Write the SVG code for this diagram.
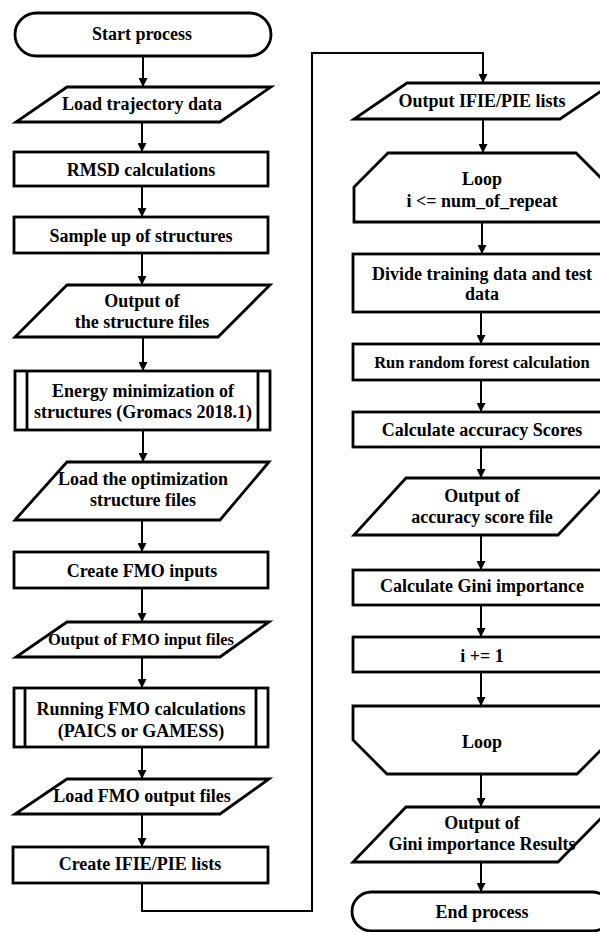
<svg xmlns="http://www.w3.org/2000/svg" width="600" height="932" viewBox="0 0 600 932">
  <style>
    .shape { fill: #ffffff; stroke: #000000; stroke-width: 2.8; stroke-linejoin: miter; }
    .bar { fill: none; stroke: #000000; stroke-width: 2.8; }
    .label { font-family: "Liberation Serif", "Times New Roman", serif; font-weight: bold; font-size: 18px; fill: #000000; text-anchor: middle; }
    .small { font-size: 16.5px; }
    .link { fill: none; stroke: #000000; stroke-width: 2; }
  </style>
  <defs>
    <marker id="arrow" viewBox="0 0 10 10" refX="10" refY="5" markerWidth="9" markerHeight="9" markerUnits="userSpaceOnUse" orient="auto">
      <path d="M0,0 L10,5 L0,10 Z" fill="#000000"/>
    </marker>
  </defs>
  <rect width="600" height="932" fill="#ffffff"/>

  <!-- connectors -->
  <g id="connectors">
    <line class="link" x1="143" y1="56" x2="143" y2="87" marker-end="url(#arrow)"/>
    <line class="link" x1="142" y1="122" x2="142" y2="152" marker-end="url(#arrow)"/>
    <line class="link" x1="142" y1="186" x2="142" y2="217" marker-end="url(#arrow)"/>
    <line class="link" x1="142" y1="253" x2="142" y2="285" marker-end="url(#arrow)"/>
    <line class="link" x1="143" y1="337" x2="143" y2="371" marker-end="url(#arrow)"/>
    <line class="link" x1="143" y1="430" x2="143" y2="462" marker-end="url(#arrow)"/>
    <line class="link" x1="142" y1="520" x2="142" y2="552" marker-end="url(#arrow)"/>
    <line class="link" x1="142" y1="588" x2="142" y2="622" marker-end="url(#arrow)"/>
    <line class="link" x1="142" y1="657" x2="142" y2="688" marker-end="url(#arrow)"/>
    <line class="link" x1="142" y1="747" x2="142" y2="779" marker-end="url(#arrow)"/>
    <line class="link" x1="142" y1="814" x2="142" y2="847" marker-end="url(#arrow)"/>
    <polyline class="link" points="142,883 142,911 312,911 312,53 483,53 483,83" marker-end="url(#arrow)"/>
    <line class="link" x1="483" y1="119" x2="483" y2="153" marker-end="url(#arrow)"/>
    <line class="link" x1="482" y1="222" x2="482" y2="254" marker-end="url(#arrow)"/>
    <line class="link" x1="481" y1="312" x2="481" y2="344" marker-end="url(#arrow)"/>
    <line class="link" x1="481" y1="380" x2="481" y2="412" marker-end="url(#arrow)"/>
    <line class="link" x1="481" y1="447" x2="481" y2="478" marker-end="url(#arrow)"/>
    <line class="link" x1="481" y1="535" x2="481" y2="570" marker-end="url(#arrow)"/>
    <line class="link" x1="481" y1="605" x2="481" y2="637" marker-end="url(#arrow)"/>
    <line class="link" x1="481" y1="672" x2="481" y2="706" marker-end="url(#arrow)"/>
    <line class="link" x1="481" y1="774" x2="481" y2="807" marker-end="url(#arrow)"/>
    <line class="link" x1="481" y1="862" x2="481" y2="892" marker-end="url(#arrow)"/>
  </g>

  <!-- left column -->
  <g id="start">
    <rect class="shape" x="15" y="13" width="256" height="43" rx="21.5" ry="21.5"/>
    <text class="label" x="142" y="40">Start process</text>
  </g>
  <g id="load-trajectory">
    <polygon class="shape" points="67,87 271,87 220,122 16,122"/>
    <text class="label" x="142" y="110">Load trajectory  data</text>
  </g>
  <g id="rmsd">
    <rect class="shape" x="14" y="152" width="254" height="34"/>
    <text class="label" x="141" y="176">RMSD calculations</text>
  </g>
  <g id="sample">
    <rect class="shape" x="14" y="217" width="254" height="36"/>
    <text class="label" x="141" y="242">Sample up of structures</text>
  </g>
  <g id="output-structures">
    <polygon class="shape" points="67,285 270,285 218,337 15,337"/>
    <text class="label" x="142" y="307">Output of</text>
    <text class="label" x="142" y="328">the structure files</text>
  </g>
  <g id="energy-min">
    <rect class="shape" x="15" y="371" width="255" height="59"/>
    <line class="bar" x1="27" y1="371" x2="27" y2="430"/>
    <line class="bar" x1="258" y1="371" x2="258" y2="430"/>
    <text class="label" x="143" y="397">Energy minimization of</text>
    <text class="label" x="143" y="418">structures (Gromacs 2018.1)</text>
  </g>
  <g id="load-optimized">
    <polygon class="shape" points="67,462 269,462 220,520 15,520"/>
    <text class="label" x="143" y="485">Load the optimization</text>
    <text class="label" x="143" y="506">structure files</text>
  </g>
  <g id="create-fmo">
    <rect class="shape" x="14" y="552" width="254" height="36"/>
    <text class="label" x="142" y="577">Create FMO inputs</text>
  </g>
  <g id="output-fmo-inputs">
    <polygon class="shape" points="67,622 269,622 220,657 16,657"/>
    <text class="label small" x="141" y="645">Output of FMO input files</text>
  </g>
  <g id="run-fmo">
    <rect class="shape" x="14" y="688" width="254" height="59"/>
    <line class="bar" x1="25" y1="688" x2="25" y2="747"/>
    <line class="bar" x1="256" y1="688" x2="256" y2="747"/>
    <text class="label" x="141" y="715">Running FMO calculations</text>
    <text class="label" x="141" y="737">(PAICS or GAMESS)</text>
  </g>
  <g id="load-fmo-output">
    <polygon class="shape" points="67,779 269,779 220,814 15,814"/>
    <text class="label" x="142" y="802">Load FMO output files</text>
  </g>
  <g id="create-ifie">
    <rect class="shape" x="13" y="847" width="255" height="36"/>
    <text class="label" x="140" y="870">Create IFIE/PIE lists</text>
  </g>

  <!-- right column -->
  <g id="output-ifie">
    <polygon class="shape" points="407,83 613,83 560,119 354,119"/>
    <text class="label" x="482" y="107">Output IFIE/PIE lists</text>
  </g>
  <g id="loop-start">
    <polygon class="shape" points="388,153 576,153 610,187 610,222 354,222 354,187"/>
    <text class="label" x="482" y="185">Loop</text>
    <text class="label" x="482" y="207">i &lt;= num_of_repeat</text>
  </g>
  <g id="split-data">
    <rect class="shape" x="353" y="254" width="258" height="58"/>
    <text class="label" x="482" y="280">Divide training data and test</text>
    <text class="label" x="482" y="300">data</text>
  </g>
  <g id="random-forest">
    <rect class="shape" x="353" y="344" width="258" height="36"/>
    <text class="label small" x="482" y="368">Run random forest calculation</text>
  </g>
  <g id="accuracy">
    <rect class="shape" x="353" y="412" width="258" height="35"/>
    <text class="label" x="482" y="436">Calculate  accuracy  Scores</text>
  </g>
  <g id="output-accuracy">
    <polygon class="shape" points="406,478 612,478 558,535 354,535"/>
    <text class="label" x="482" y="502">Output of</text>
    <text class="label" x="482" y="523">accuracy  score file</text>
  </g>
  <g id="gini">
    <rect class="shape" x="353" y="570" width="258" height="35"/>
    <text class="label" x="482" y="592">Calculate  Gini importance</text>
  </g>
  <g id="increment">
    <rect class="shape" x="353" y="637" width="258" height="35"/>
    <text class="label" x="482" y="662">i += 1</text>
  </g>
  <g id="loop-end">
    <polygon class="shape" points="353,706 611,706 611,740 577,774 387,774 353,740"/>
    <text class="label" x="482" y="748">Loop</text>
  </g>
  <g id="output-gini">
    <polygon class="shape" points="406,807 612,807 558,862 353,862"/>
    <text class="label" x="482" y="829">Output of</text>
    <text class="label" x="482" y="850">Gini importance Results</text>
  </g>
  <g id="end">
    <rect class="shape" x="352" y="892" width="260" height="39" rx="19.5" ry="19.5"/>
    <text class="label" x="482" y="918">End process</text>
  </g>
</svg>
